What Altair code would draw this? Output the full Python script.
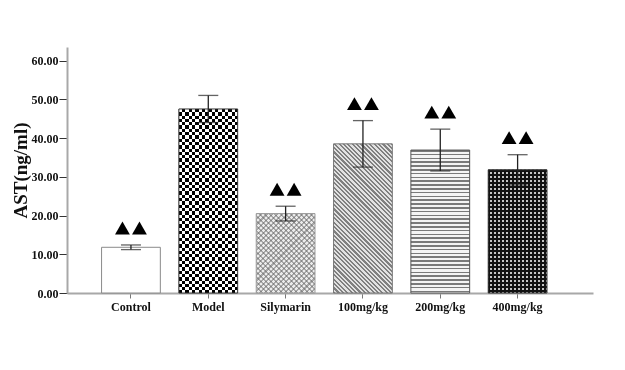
import math
import altair as alt
import pandas as pd

# ---- data ----
cats = ["Control", "Model", "Silymarin", "100mg/kg", "200mg/kg", "400mg/kg"]
means = [11.8, 47.5, 20.5, 38.5, 36.9, 31.8]
errs = [0.6, 3.5, 1.9, 6.0, 5.4, 3.9]
sig = [1, 0, 1, 1, 1, 1]
y_ticks = [0, 10, 20, 30, 40, 50, 60]

df = pd.DataFrame({"group": cats, "mean": means, "err": errs, "sig": sig})
df["lo"] = df["mean"] - df["err"]
df["hi"] = df["mean"] + df["err"]

# ---- layout / style ----
W, H = 526, 246
YMAX = 63.5
PI, PO, ALIGN = 0.24, 0.521, 0.429
STEP = W / (len(cats) - PI + 2 * PO)
BW = STEP * (1 - PI)
SERIF = "Liberation Serif"
CLEAR = "rgba(255,255,255,0)"


def bar_h(cat):
    return means[cats.index(cat)] / YMAX * H


def make_stops(c1, c2, frac, n):
    out = []
    k = 0
    while k / n < 1:
        a = k / n
        b = min((k + frac) / n, 1.0)
        c = min((k + 1) / n, 1.0)
        out += [(a, c1), (b, c1), (b, c2), (c, c2)]
        k += 1
    return [alt.GradientStop(offset=o, color=col) for o, col in out]


def hstripes(cat, c1, c2, frac, p):
    n = bar_h(cat) / p
    return alt.Gradient(gradient="linear", x1=0, y1=0, x2=0, y2=1,
                        stops=make_stops(c1, c2, frac, n))


def vstripes(cat, c1, c2, frac, p):
    n = BW / p
    return alt.Gradient(gradient="linear", x1=0, y1=0, x2=1, y2=0,
                        stops=make_stops(c1, c2, frac, n))


def diag(cat, c1, c2, frac, p, direction):
    h = bar_h(cat)
    a = BW / h
    s = (a + 1) / (a * a + 1)
    n = (BW + h) / (p * math.sqrt(2))
    if direction == "/":
        return alt.Gradient(gradient="linear", x1=0, y1=0, x2=s * a, y2=s,
                            stops=make_stops(c1, c2, frac, n))
    return alt.Gradient(gradient="linear", x1=0, y1=1, x2=s * a, y2=1 - s,
                        stops=make_stops(c1, c2, frac, n))


xscale = alt.Scale(domain=cats, paddingInner=PI, paddingOuter=PO, align=ALIGN)
yscale = alt.Scale(domain=[0, YMAX], nice=False, zero=True)

xaxis = alt.Axis(title=None, labelAngle=0, labelFont=SERIF, labelFontWeight="bold",
                 labelFontSize=12, labelColor="#111", labelPadding=3,
                 tickColor="#777", tickSize=5, domainColor="#a8a8a8", domainWidth=2)
yaxis = alt.Axis(title="AST(ng/ml)", values=y_ticks, format=".2f", grid=False,
                 labelFont=SERIF, labelFontWeight="bold", labelFontSize=12,
                 labelColor="#111", labelPadding=1, tickColor="#333", tickSize=8,
                 domainColor="#a8a8a8", domainWidth=2,
                 titleFont=SERIF, titleFontSize=19, titleFontWeight="bold",
                 titleColor="#111", titleX=-47, titleY=H / 2, titleBaseline="middle")

base = alt.Chart(df).encode(
    x=alt.X("group:N", scale=xscale, axis=xaxis),
    y=alt.Y("mean:Q", scale=yscale, axis=yaxis),
)


def bar_layer(cat, fill, blend=None):
    kw = dict(fill=fill, strokeWidth=0)
    if blend:
        kw["blend"] = blend
    return base.transform_filter(alt.datum.group == cat).mark_bar(**kw)


layers = [
    bar_layer("Control", "white"),
    bar_layer("Model", vstripes("Model", "#000000", "#ffffff", 0.5, 6.6)),
    bar_layer("Model", hstripes("Model", "#ffffff", CLEAR, 0.5, 6.6), blend="difference"),
    bar_layer("Silymarin", "#ececec"),
    bar_layer("Silymarin", diag("Silymarin", "rgba(90,90,90,0.45)", CLEAR, 0.4, 3.6, "\\")),
    bar_layer("Silymarin", diag("Silymarin", "rgba(90,90,90,0.45)", CLEAR, 0.4, 3.6, "/")),
    bar_layer("100mg/kg", diag("100mg/kg", "#808080", "#e2e2e2", 0.5, 3.1, "\\")),
    bar_layer("200mg/kg", hstripes("200mg/kg", "#7a7a7a", "#f4f4f4", 0.4, 3.8)),
    bar_layer("400mg/kg", "#c4c4c4"),
    bar_layer("400mg/kg", vstripes("400mg/kg", "#111111", CLEAR, 0.5, 4.0)),
    bar_layer("400mg/kg", hstripes("400mg/kg", "#111111", CLEAR, 0.5, 4.0)),
]

outline = base.mark_bar(fill="transparent", strokeWidth=1).encode(
    stroke=alt.Stroke("group:N", legend=None,
                      scale=alt.Scale(domain=cats,
                                      range=["#8a8a8a", "#333333", "#9a9a9a",
                                             "#777777", "#555555", "#333333"]))
)

err_rule = base.mark_rule(color="#222", strokeWidth=1.3).encode(
    y=alt.Y("lo:Q", scale=yscale, axis=yaxis), y2="hi:Q")
cap_hi = base.mark_tick(color="#222", size=20, thickness=1.3).encode(
    y=alt.Y("hi:Q", scale=yscale, axis=yaxis))
cap_lo = base.mark_tick(color="#222", size=20, thickness=1.3).encode(
    y=alt.Y("lo:Q", scale=yscale, axis=yaxis))

tri = [
    base.transform_filter(alt.datum.sig == 1).mark_point(
        shape="triangle-up", filled=True, size=220, color="black", opacity=1,
        xOffset=off, yOffset=-17).encode(y=alt.Y("hi:Q", scale=yscale, axis=yaxis))
    for off in (-8.5, 8.5)
]

chart = alt.layer(*layers, outline, err_rule, cap_hi, cap_lo, *tri).properties(
    width=W, height=H,
    autosize=alt.AutoSizeParams(type="none"),
    padding={"left": 59, "top": 39, "right": 24, "bottom": 69},
    background="white",
).configure_view(stroke=None)

chart.save("out.html", embed_options={"renderer": "svg", "actions": False})
